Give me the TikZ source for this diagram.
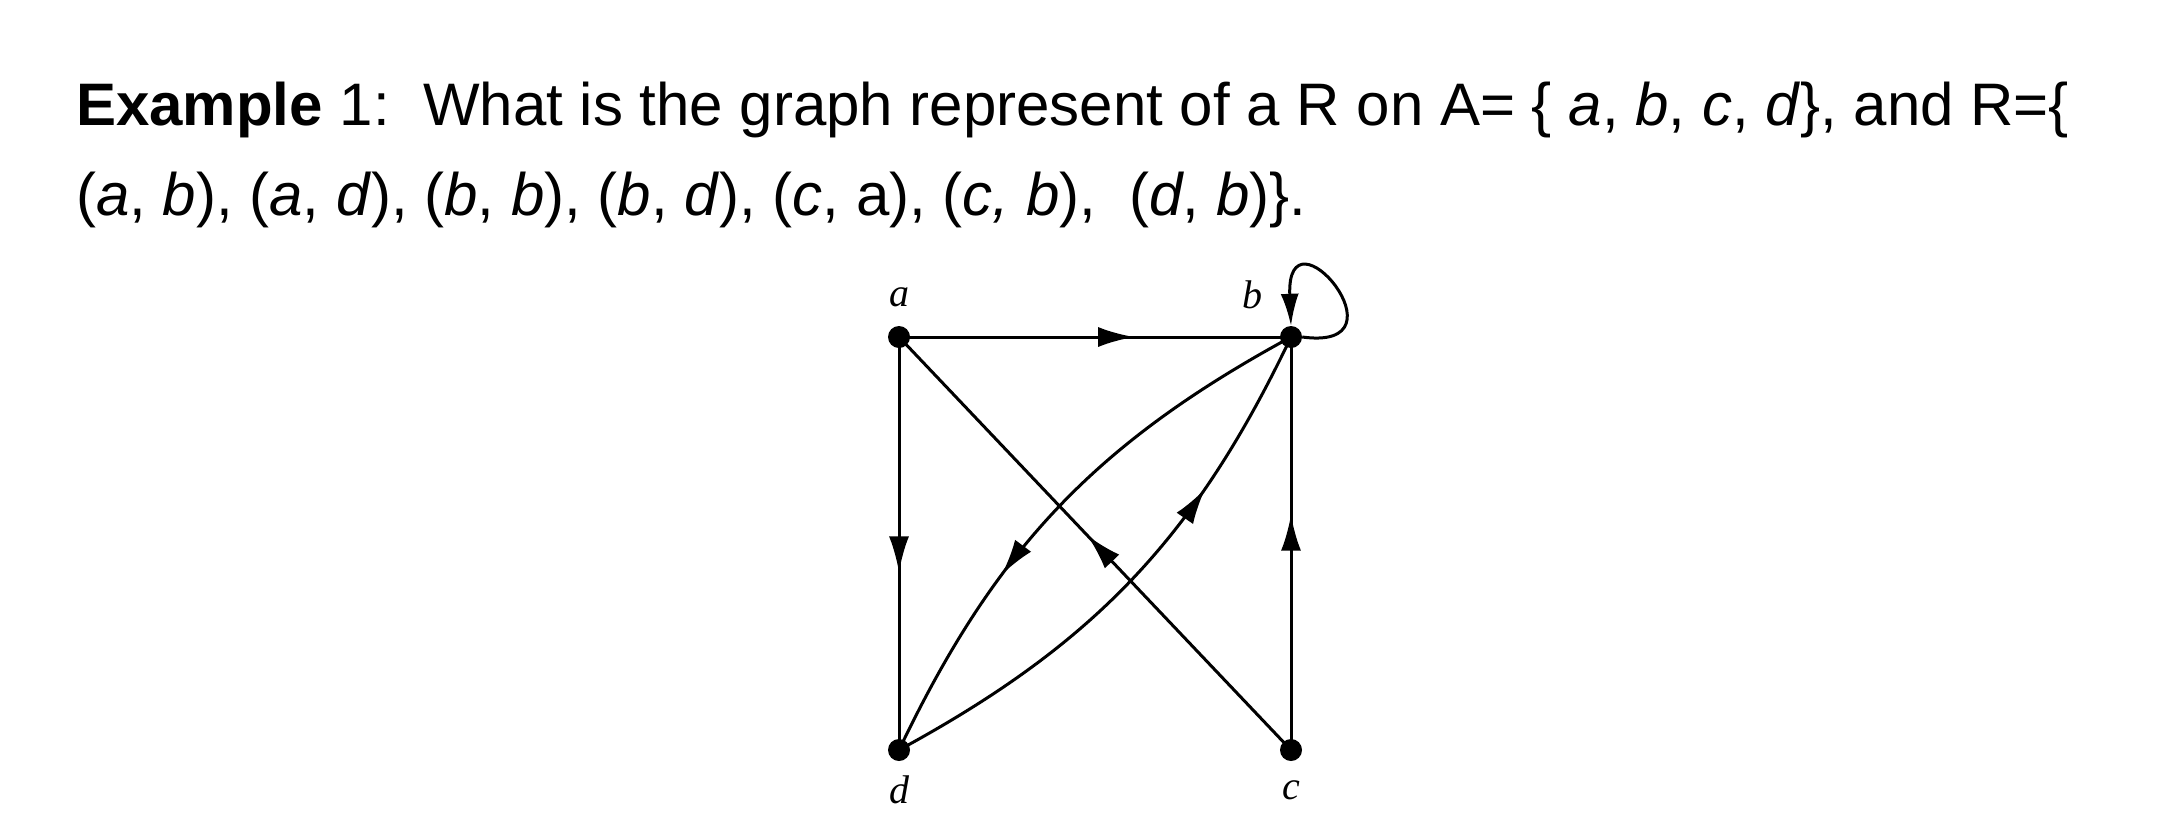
\documentclass[tikz,border=0pt]{standalone}
\usepackage{fontspec}
\setmainfont{Liberation Sans}
\newfontfamily\serifit{Liberation Serif}
\usetikzlibrary{arrows.meta,decorations.markings}
\begin{document}
\begin{tikzpicture}[x=1pt,y=-1pt,
  dot/.style={circle,fill=black,inner sep=0pt,minimum size=22pt},
  lbl/.style={font=\fontsize{40}{40}\selectfont\serifit\itshape},
  edge/.style={line width=3pt},
  midarrow/.style={decoration={markings,mark=at position #1 with {\arrow{Latex[length=36pt,width=20pt]}}},postaction=decorate},
  txt/.style={anchor=base west,inner sep=0pt,font=\fontsize{60}{60}\selectfont}]
\useasboundingbox (0,0) rectangle (2168,828);
\node[txt] (l1) at (76,125) {\textbf{Example} 1:\ \ What is the graph represent of a R on A= \{ \textit{a}, \textit{b}, \textit{c}, \textit{d}\}, and R=\{};
\node[txt] (l2) at (76,215) {(\textit{a}, \textit{b}), (\textit{a}, \textit{d}), (\textit{b}, \textit{b}), (\textit{b}, \textit{d}), (\textit{c}, a), (\textit{c, b}),\ \ (\textit{d}, \textit{b})\}.};
\node[dot] (a) at (899,337) {};
\node[dot] (b) at (1291,337) {};
\node[dot] (c) at (1291,750) {};
\node[dot] (d) at (899,750) {};
\node[lbl] (la) at (899,297) {a};
\node[lbl] (lb) at (1252,295) {b};
\node[lbl] (lc) at (1291,790) {c};
\node[lbl] (ld) at (899,790) {d};
\draw[edge,midarrow=0.6] (a.center) -- (b.center);
\draw[edge,midarrow=0.57] (a.center) -- (d.center);
\draw[edge,midarrow=0.57] (c.center) -- (b.center);
\draw[edge,midarrow=0.52] (c.center) -- (a.center);
\draw[edge,midarrow=0.65] (b.center) to[bend right=18] (d.center);
\draw[edge,midarrow=0.7] (d.center) to[bend right=18] (b.center);
\draw[edge,-{Latex[length=32pt,width=18pt]}] (b.east) .. controls +(110,15) and +(-5,-125) .. (b.north);
\end{tikzpicture}
\end{document}
